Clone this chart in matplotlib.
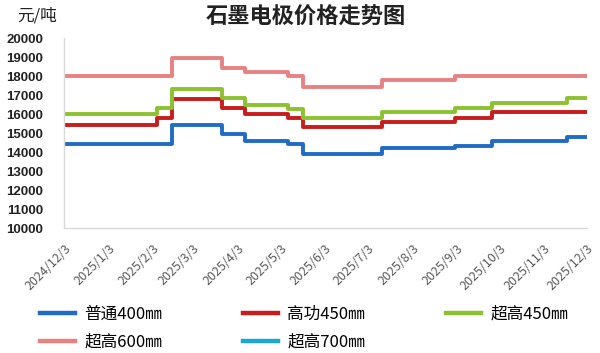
import pandas as pd
import numpy as np
import matplotlib
matplotlib.use("Agg")
import matplotlib.pyplot as plt
from matplotlib.lines import Line2D

plt.rcParams['font.family'] = ['Noto Sans CJK SC', 'DejaVu Sans']

# price change dates (step changes), last entry closes the final step
change_dates = pd.to_datetime([
    "2024-12-03", "2025-02-06", "2025-02-16", "2025-03-23", "2025-04-08",
    "2025-05-08", "2025-05-19", "2025-07-13", "2025-09-02", "2025-09-28",
    "2025-11-19", "2025-12-03",
])

pt_400 = [14400, 14400, 15400, 14950, 14600, 14400, 13900, 14200, 14300, 14600, 14800, 14800]
gg_450 = [15400, 15800, 16800, 16300, 16000, 15800, 15300, 15600, 15800, 16100, 16100, 16100]
cg_450 = [16000, 16300, 17300, 16850, 16500, 16250, 15800, 16100, 16300, 16600, 16850, 16850]
cg_600 = [18000, 18000, 18950, 18450, 18200, 18000, 17450, 17800, 18000, 18000, 18000, 18000]
cg_700 = [np.nan] * len(change_dates)   # no data shown in the chart

series_names = ["普通400㎜", "高功450㎜", "超高450㎜", "超高600㎜", "超高700㎜"]
series_colors = ["#1f6cc6", "#c91d1d", "#8cc230", "#e88282", "#1ba7d3"]
series_values = [pt_400, gg_450, cg_450, cg_600, cg_700]

tick_labels = ["2024/12/3", "2025/1/3", "2025/2/3", "2025/3/3", "2025/4/3", "2025/5/3",
               "2025/6/3", "2025/7/3", "2025/8/3", "2025/9/3", "2025/10/3",
               "2025/11/3", "2025/12/3"]
tick_dates = pd.to_datetime(tick_labels, format="%Y/%m/%d")
y_ticks = list(range(10000, 20001, 1000))

fig = plt.figure(figsize=(6.0, 3.53), dpi=100)
ax = fig.add_axes([0.107, 0.354, 0.871, 0.538])

handles = {}
for name, color, vals in zip(series_names, series_colors, series_values):
    ax.plot(change_dates, vals, drawstyle="steps-post", color=color,
            lw=2.8, solid_capstyle="butt")
    handles[name] = Line2D([], [], color=color, lw=3.2)

ax.set_xlim(change_dates[0], change_dates[-1])
ax.set_ylim(10000, 20000)
ax.set_yticks(y_ticks)
ax.set_yticklabels([str(v) for v in y_ticks], fontsize=9.5, fontweight="bold",
                   family=["Liberation Sans", "DejaVu Sans"], color="#222222")
ax.set_xticks(tick_dates)
ax.set_xticklabels(tick_labels, rotation=45, ha="right", va="top",
                   rotation_mode="anchor", fontsize=9, color="#595959")
ax.tick_params(axis="both", length=0)
ax.tick_params(axis="x", pad=10)
ax.tick_params(axis="y", pad=15)

for s in ["top", "right"]:
    ax.spines[s].set_visible(False)
for s in ["left", "bottom"]:
    ax.spines[s].set_color("#d9d9d9")
    ax.spines[s].set_linewidth(1.0)

fig.text(0.51, 0.952, "石墨电极价格走势图", ha="center", va="center",
         fontsize=16, fontweight="bold", color="#222222")
fig.text(0.028, 0.955, "元/吨", ha="left", va="center", fontsize=12, color="#222222")

order = ["普通400㎜", "超高600㎜", "高功450㎜", "超高700㎜", "超高450㎜"]
fig.legend([handles[n] for n in order], order, ncol=3, loc="center",
           bbox_to_anchor=(0.067, 0.071 - 0.06, 0.88, 0.12), mode="expand",
           frameon=False, fontsize=12, handlelength=2.1, handletextpad=0.55,
           labelspacing=0.65, borderaxespad=0, borderpad=0)

fig.savefig("out.png", dpi=100)
